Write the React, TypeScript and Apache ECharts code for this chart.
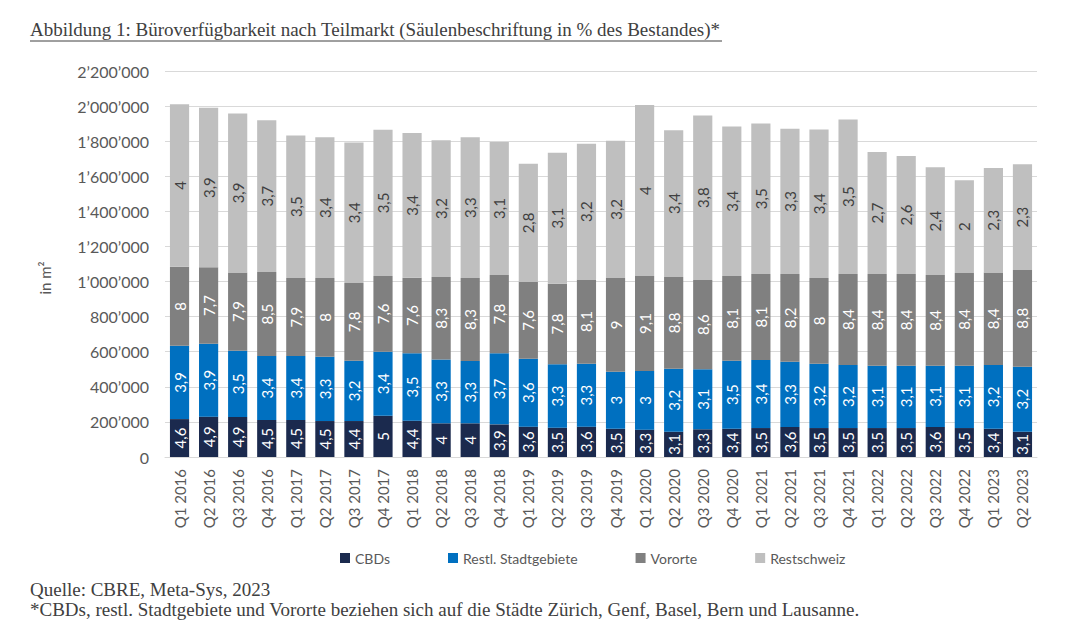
import React, { useEffect, useRef } from "react";
import * as echarts from "echarts";

// Quarters on the x axis
const quarters: string[] = [
  "Q1 2016", "Q2 2016", "Q3 2016", "Q4 2016",
  "Q1 2017", "Q2 2017", "Q3 2017", "Q4 2017",
  "Q1 2018", "Q2 2018", "Q3 2018", "Q4 2018",
  "Q1 2019", "Q2 2019", "Q3 2019", "Q4 2019",
  "Q1 2020", "Q2 2020", "Q3 2020", "Q4 2020",
  "Q1 2021", "Q2 2021", "Q3 2021", "Q4 2021",
  "Q1 2022", "Q2 2022", "Q3 2022", "Q4 2022",
  "Q1 2023", "Q2 2023",
];

// Available office space in m² per sub-market
const cbdM2: number[] = [
  216000, 230000, 228000, 211000, 211000, 205000, 205000, 235000,
  207000, 192000, 192000, 186000, 173000, 167000, 173000, 161000,
  156000, 144000, 158000, 161000, 165000, 171000, 165000, 165000,
  165000, 165000, 171000, 165000, 161000, 144000,
];
const stadtM2: number[] = [
  418000, 416000, 378000, 364000, 364000, 367000, 344000, 365000,
  384000, 363000, 355000, 405000, 387000, 361000, 359000, 325000,
  334000, 359000, 342000, 388000, 388000, 372000, 367000, 359000,
  355000, 355000, 349000, 355000, 363000, 371000,
];
const vororteM2: number[] = [
  450000, 435000, 446000, 479000, 445000, 448000, 442000, 431000,
  431000, 471000, 473000, 446000, 437000, 460000, 480000, 534000,
  541000, 523000, 509000, 482000, 490000, 500000, 488000, 519000,
  523000, 523000, 517000, 528000, 528000, 551000,
];
const restschweizM2: number[] = [
  927000, 909000, 906000, 866000, 813000, 802000, 802000, 834000,
  824000, 780000, 802000, 758000, 674000, 746000, 773000, 783000,
  975000, 837000, 938000, 853000, 858000, 828000, 847000, 881000,
  695000, 672000, 615000, 529000, 595000, 602000,
];

// Availability rate in % of stock (bar labels)
const cbdPct: number[] = [
  4.6, 4.9, 4.9, 4.5, 4.5, 4.5, 4.4, 5, 4.4, 4, 4, 3.9, 3.6, 3.5, 3.6,
  3.5, 3.3, 3.1, 3.3, 3.4, 3.5, 3.6, 3.5, 3.5, 3.5, 3.5, 3.6, 3.5, 3.4, 3.1,
];
const stadtPct: number[] = [
  3.9, 3.9, 3.5, 3.4, 3.4, 3.3, 3.2, 3.4, 3.5, 3.3, 3.3, 3.7, 3.6, 3.3, 3.3,
  3, 3, 3.2, 3.1, 3.5, 3.4, 3.3, 3.2, 3.2, 3.1, 3.1, 3.1, 3.1, 3.2, 3.2,
];
const vorortePct: number[] = [
  8, 7.7, 7.9, 8.5, 7.9, 8, 7.8, 7.6, 7.6, 8.3, 8.3, 7.8, 7.6, 7.8, 8.1,
  9, 9.1, 8.8, 8.6, 8.1, 8.1, 8.2, 8, 8.4, 8.4, 8.4, 8.4, 8.4, 8.4, 8.8,
];
const restschweizPct: number[] = [
  4, 3.9, 3.9, 3.7, 3.5, 3.4, 3.4, 3.5, 3.4, 3.2, 3.3, 3.1, 2.8, 3.1, 3.2,
  3.2, 4, 3.4, 3.8, 3.4, 3.5, 3.3, 3.4, 3.5, 2.7, 2.6, 2.4, 2, 2.3, 2.3,
];

const FONT = "Lato, 'Noto Sans', sans-serif";
const SERIF = "'Liberation Serif', 'DejaVu Serif', serif";
const TXT = "#595959";

const fmtPct = (v: number) => String(v).replace(".", ",");
const fmtThousands = (v: number) =>
  String(v).replace(/\B(?=(\d{3})+(?!\d))/g, "\u2019");

function makeSeries(
  name: string,
  values: number[],
  pct: number[],
  color: string,
  labelColor: string
) {
  return {
    name,
    type: "bar",
    stack: "total",
    data: values,
    barCategoryGap: "34%",
    itemStyle: { color },
    label: {
      show: true,
      position: "inside",
      rotate: 90,
      color: labelColor,
      fontFamily: FONT,
      fontSize: 15,
      formatter: (p: any) => fmtPct(pct[p.dataIndex]),
    },
  };
}

export default function App() {
  const ref = useRef<HTMLDivElement>(null);

  useEffect(() => {
    if (!ref.current) return;
    const chart = echarts.init(ref.current, null, { renderer: "svg" });
    chart.setOption({
      animation: false,
      backgroundColor: "#ffffff",
      textStyle: { fontFamily: FONT },
      grid: { left: 165, right: 32, top: 71, bottom: 183 },
      legend: {
        left: 335,
        top: 546,
        icon: "rect",
        itemWidth: 10,
        itemHeight: 10,
        itemGap: 58,
        textStyle: { color: TXT, fontSize: 14, fontFamily: FONT },
        data: ["CBDs", "Restl. Stadtgebiete", "Vororte", "Restschweiz"],
      },
      xAxis: {
        type: "category",
        data: quarters,
        axisLine: { lineStyle: { color: "#D9D9D9" } },
        axisTick: { show: false },
        axisLabel: {
          rotate: 90,
          interval: 0,
          color: TXT,
          fontSize: 15,
          fontFamily: FONT,
          margin: 12,
        },
      },
      yAxis: {
        type: "value",
        min: 0,
        max: 2200000,
        interval: 200000,
        name: "in m²",
        nameLocation: "middle",
        nameGap: 113,
        nameRotate: 90,
        nameTextStyle: { color: TXT, fontSize: 15, fontFamily: FONT, padding: [0, 28, 0, 0] },
        axisLine: { show: false },
        axisTick: { show: false },
        splitLine: { lineStyle: { color: "#D9D9D9" } },
        axisLabel: {
          color: TXT,
          fontSize: 16,
          fontFamily: FONT,
          margin: 16,
          formatter: (v: number) => fmtThousands(v),
        },
      },
      series: [
        makeSeries("CBDs", cbdM2, cbdPct, "#1B2A4E", "#ffffff"),
        makeSeries("Restl. Stadtgebiete", stadtM2, stadtPct, "#0070C0", "#ffffff"),
        makeSeries("Vororte", vororteM2, vorortePct, "#808080", "#ffffff"),
        makeSeries("Restschweiz", restschweizM2, restschweizPct, "#BFBFBF", "#404040"),
      ],
      graphic: [
        {
          type: "text",
          left: 30,
          top: 20,
          style: {
            text:
              "Abbildung 1: Büroverfügbarkeit nach Teilmarkt (Säulenbeschriftung in % des Bestandes)*",
            font: `19px ${SERIF}`,
            fill: "#404040",
          },
        },
        {
          type: "line",
          shape: { x1: 30, y1: 41, x2: 722, y2: 41 },
          style: { stroke: "#404040", lineWidth: 1 },
        },
        {
          type: "text",
          left: 30,
          top: 580,
          style: {
            text: "Quelle: CBRE, Meta-Sys, 2023",
            font: `19px ${SERIF}`,
            fill: "#404040",
          },
        },
        {
          type: "text",
          left: 30,
          top: 600,
          style: {
            text:
              "*CBDs, restl. Stadtgebiete und Vororte beziehen sich auf die Städte Zürich, Genf, Basel, Bern und Lausanne.",
            font: `19px ${SERIF}`,
            fill: "#404040",
          },
        },
      ],
    });
    return () => chart.dispose();
  }, []);

  return (
    <div
      ref={ref}
      style={{ position: "fixed", left: 0, top: 0, width: 1069, height: 640 }}
    />
  );
}
